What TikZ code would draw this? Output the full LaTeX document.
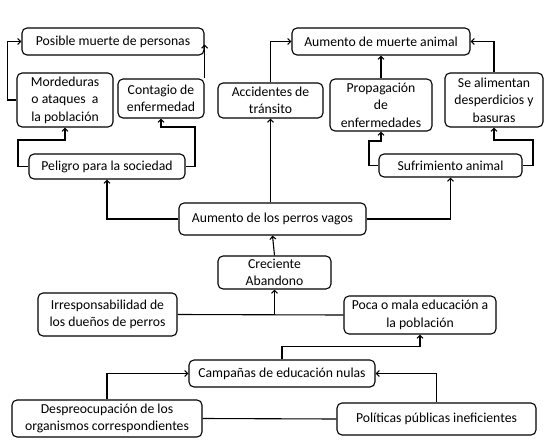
\documentclass[tikz,border=0pt]{standalone}
\usepackage{fontspec}
\setmainfont{Carlito}
\usetikzlibrary{arrows.meta}
\begin{document}
\begin{tikzpicture}[x=1pt,y=-1pt,
  box/.style={draw, rounded corners=5pt, line width=1.1pt, align=center, inner sep=0pt,
     font=\fontsize{13.7}{17.5}\selectfont},
  conn/.style={line width=1.1pt},
  arr/.style={conn, -{Straight Barb[length=3pt,width=6pt]}}]
\fill[white] (0,0) rectangle (547,445);
\useasboundingbox (0,0) rectangle (547,445);
% nodes
\node[box, minimum width=182, minimum height=27] (posible) at (113,41.5) {Posible muerte de personas};
\node[box, minimum width=96, minimum height=54] (mord) at (65,100) {Mordeduras\\o ataques\ \ a\\la población};
\node[box, minimum width=86, minimum height=39] (contagio) at (161,98.5) {Contagio de\\enfermedad};
\node[box, minimum width=156, minimum height=25] (peligro) at (107,166.5) {Peligro para la sociedad};
\node[box, minimum width=105, minimum height=35] (accid) at (270.5,100.5) {Accidentes de\\tránsito};
\node[box, minimum width=178, minimum height=27] (amuerte) at (381,41.5) {Aumento de muerte animal};
\node[box, minimum width=102, minimum height=52] (propag) at (381,105) {Propagación\\de\\enfermedades};
\node[box, minimum width=98, minimum height=54] (alim) at (494,100) {Se alimentan\\desperdicios y\\basuras};
\node[box, minimum width=143, minimum height=23] (sufr) at (450.5,165.5) {Sufrimiento animal};
\node[box, minimum width=187, minimum height=32] (vagos) at (272.5,219) {Aumento de los perros vagos};
\node[box, minimum width=113, minimum height=33] (crec) at (274.5,272.5) {Creciente\\Abandono};
\node[box, minimum width=139, minimum height=43] (irresp) at (107.5,314.5) {Irresponsabilidad de\\los dueños de perros};
\node[box, minimum width=152, minimum height=38] (poca) at (420,315) {Poca o mala educación a\\la población};
\node[box, minimum width=186, minimum height=27] (camp) at (282,373.5) {Campañas de educación nulas};
\node[box, minimum width=190, minimum height=37] (desp) at (107,418.5) {Despreocupación de los\\organismos correspondientes};
\node[box, minimum width=199, minimum height=32] (polit) at (436.5,419) {Políticas públicas ineficientes};
% connectors
\draw[arr] (peligro.west) -| (18,140) -| (mord.south);
\draw[arr] (peligro.east) -| (195,127) -| (contagio.south);
\draw[arr] (mord.west) -- ++(-9,0) |- (posible.west);
\draw[arr] (contagio.north east) -- ++(0,-34);
\draw[arr] (vagos.west) -| (peligro.south);
\draw[arr] (vagos.east) -| (sufr.south);
\draw[arr] (vagos.north -| accid.south) -- (accid.south);
\draw[arr] (accid.north) |- (amuerte.west);
\draw[arr] (propag.north) -- (amuerte.south);
\draw[arr] (alim.north) |- (amuerte.east);
\draw[arr] (sufr.west) -| (369,141) -| (propag.south);
\draw[arr] (sufr.east) -| (533,140) -| (alim.south);
\draw[arr] (crec.north) -- (vagos.south);
\draw[conn] (irresp.east) -- (poca.west);
\coordinate (j) at (crec.south |- irresp.east);
\draw[arr] (j) -- (crec.south);
\draw[arr] (camp.north) -- ++(0,-13) -| (poca.south);
\draw[arr] (desp.north) |- (camp.west);
\draw[arr] (polit.north) |- (camp.east);
\draw[conn] (desp.east) -- (polit.west);
\end{tikzpicture}
\end{document}
